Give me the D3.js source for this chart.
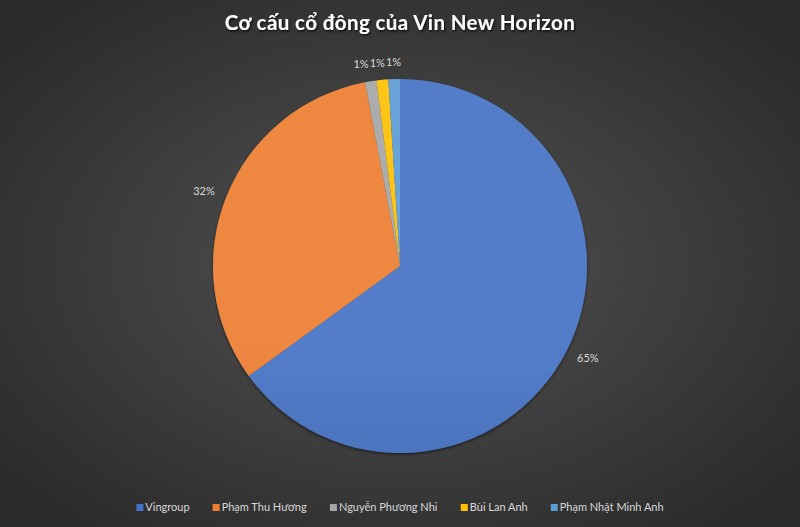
<!DOCTYPE html>
<html>
<head>
<meta charset="utf-8">
<script src="https://cdn.jsdelivr.net/npm/d3@7"></script>
<style>
  html, body { margin: 0; padding: 0; background: #3a3a3a; }
  svg { display: block; }
</style>
</head>
<body>
<svg id="chart" width="800" height="527"></svg>
<script>
const categories = ["Vingroup", "Phạm Thu Hương", "Nguyễn Phương Nhi", "Bùi Lan Anh", "Phạm Nhật Minh Anh"];
const shares = [65, 32, 1, 1, 1];
const labels = ["65%", "32%", "1%", "1%", "1%"];
const colors = ["#4472C4", "#ED7D31", "#A5A5A5", "#FFC000", "#5B9BD5"];
const title = "Cơ cấu cổ đông của Vin New Horizon";

const W = 800, H = 527;
const svg = d3.select("#chart");
const defs = svg.append("defs");

// background radial gradient
const bg = defs.append("radialGradient").attr("id", "bg")
  .attr("cx", "50%").attr("cy", "50%").attr("r", "65%");
bg.append("stop").attr("offset", "0%").attr("stop-color", "#535353");
bg.append("stop").attr("offset", "100%").attr("stop-color", "#2a2a2a");
svg.append("rect").attr("width", W).attr("height", H).attr("fill", "url(#bg)");

// shadow filters
const tf = defs.append("filter").attr("id", "tshadow").attr("x", "-10%").attr("y", "-30%").attr("width", "120%").attr("height", "160%");
tf.append("feDropShadow").attr("dx", 1).attr("dy", 1.5).attr("stdDeviation", 1.2).attr("flood-color", "#000").attr("flood-opacity", 0.8);
const pf = defs.append("filter").attr("id", "pshadow").attr("x", "-10%").attr("y", "-10%").attr("width", "120%").attr("height", "120%");
pf.append("feDropShadow").attr("dx", 0).attr("dy", 1.5).attr("stdDeviation", 1.5).attr("flood-color", "#000").attr("flood-opacity", 0.5);

// title
svg.append("text")
  .attr("x", W / 2).attr("y", 30)
  .attr("text-anchor", "middle")
  .attr("font-family", "Lato, 'Open Sans', sans-serif")
  .attr("font-weight", "bold")
  .attr("font-size", 20.5)
  .attr("letter-spacing", 0.4)
  .attr("fill", "#ffffff")
  .attr("filter", "url(#tshadow)")
  .text(title);

const cx = 400, cy = 266, R = 187;

// slice gradients (slightly lighter at top)
colors.forEach((c, i) => {
  const g = defs.append("linearGradient").attr("id", "sg" + i)
    .attr("gradientUnits", "userSpaceOnUse")
    .attr("x1", 0).attr("y1", cy - R).attr("x2", 0).attr("y2", cy + R);
  const col = d3.color(c);
  g.append("stop").attr("offset", "0%").attr("stop-color", d3.interpolateRgb(col, "#ffffff")(0.08));
  g.append("stop").attr("offset", "100%").attr("stop-color", col.darker(0.5));
});

const pie = d3.pie().value(d => d).sort(null);
const arcs = pie(shares);
const arc = d3.arc().innerRadius(0).outerRadius(R);

const g = svg.append("g").attr("transform", `translate(${cx},${cy})`);
g.append("g").attr("filter", "url(#pshadow)")
  .selectAll("path").data(arcs).join("path")
  .attr("d", arc)
  .attr("fill", (d, i) => "url(#sg" + i + ")")
  .attr("stroke", "none");

// outside-end labels: nearest box edge just outside the rim
const lblR = R + 13;
const lbls = g.selectAll("text.lbl").data(arcs).join("text")
  .attr("class", "lbl")
  .attr("text-anchor", "middle")
  .attr("dy", "0.35em")
  .attr("font-family", "Lato, 'Open Sans', sans-serif")
  .attr("font-size", 11)
  .attr("fill", "#d9d9d9")
  .text((d, i) => labels[i]);
const pos = [];
lbls.each(function (d) {
  const a = (d.startAngle + d.endAngle) / 2;
  const w = this.getComputedTextLength();
  const s = Math.sin(a), c = Math.cos(a);
  pos.push({ x: lblR * s + (w / 2) * s, y: -lblR * c - 4 * c, w });
});
// resolve horizontal overlaps for labels sharing the same band (near the top)
for (let k = 0; k < 5; k++) {
  for (let i = pos.length - 1; i > 0; i--) {
    const a = pos[i], b = pos[i - 1];
    if (Math.abs(a.y - b.y) < 12) {
      const minD = (a.w + b.w) / 2 + 1;
      if (a.x - b.x < minD && a.x > b.x) b.x = a.x - minD;
    }
  }
}
lbls.attr("transform", (d, i) => `translate(${pos[i].x},${pos[i].y})`);

// legend
const leg = svg.append("g");
const items = leg.selectAll("g").data(categories).join("g");
items.append("rect").attr("width", 7).attr("height", 7).attr("y", -7)
  .attr("fill", (d, i) => colors[i]);
items.append("text").attr("x", 9).attr("y", 0)
  .attr("font-family", "Lato, 'Open Sans', sans-serif")
  .attr("font-size", 11)
  .attr("fill", "#d9d9d9")
  .text(d => d);
const gap = 23;
let widths = [];
items.each(function () { widths.push(this.getBBox().width); });
const total = d3.sum(widths) + gap * (widths.length - 1);
let x0 = W / 2 - total / 2;
items.attr("transform", (d, i) => {
  const x = x0;
  x0 += widths[i] + gap;
  return `translate(${x},511)`;
});
</script>
</body>
</html>
